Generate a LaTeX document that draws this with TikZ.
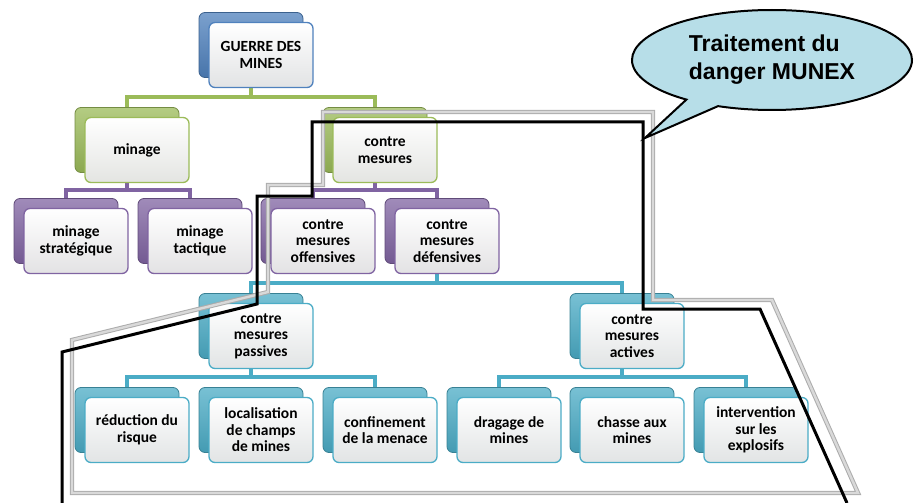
\documentclass[tikz,border=0pt]{standalone}
\usepackage{fontspec}
\setmainfont{Carlito}
\newfontfamily\bullefont{Liberation Sans}
\usepackage{tikz}
\usetikzlibrary{shapes, shapes.callouts, positioning, backgrounds, calc}
\definecolor{niveaubleu}{RGB}{79,129,189}
\definecolor{niveauvert}{RGB}{155,187,89}
\definecolor{niveauviolet}{RGB}{128,100,162}
\definecolor{niveaucyan}{RGB}{75,172,198}
\definecolor{bullefond}{RGB}{183,222,232}
\tikzset{
  fond/.style={rectangle, rounded corners=6pt, minimum width=104pt, minimum height=65pt, inner sep=0pt,
    draw=#1!75!black, line width=0.8pt, top color=#1!75!white, bottom color=#1!90!black},
  face/.style={rectangle, rounded corners=6pt, minimum width=104pt, minimum height=65pt, inner sep=2pt,
    draw=#1, line width=1.3pt, top color=white, bottom color=#1!12!gray!22, align=center,
    font=\bfseries\fontsize{15.5}{16.5}\selectfont},
  lien/.style={draw=#1, line width=3.5pt}
}
\tikzstyle{bulle} = [ellipse callout, draw=black, line width=2pt, fill=bullefond, minimum width=280pt,
  minimum height=100pt, inner sep=0pt, align=left, font=\bullefont\bfseries\fontsize{23}{28}\selectfont]
\tikzstyle{zone} = [draw=gray!65, double=gray!30, double distance=2.4pt, line width=1pt, line join=miter]
\tikzstyle{contour} = [draw=black, line width=3pt, line join=miter]
% une boite = fond colore decale + face claire
\newcommand{\boite}[5]{%
  \node[fond=#4] (#1F) at (#2-10,#3-10) {};
  \node[face=#4] (#1) at (#2,#3) {#5};}

\begin{document}
\begin{tikzpicture}[x=1pt, y=-1pt]
	\useasboundingbox (0,0) rectangle (914,503);
	% niveau 1 et 2
	\boite{guerre}{261}{55}{niveaubleu}{GUERRE DES\\MINES}
	\boite{minage}{137}{150}{niveauvert}{minage}
	\boite{contre}{385}{150}{niveauvert}{contre\\mesures}
	\boite{strat}{76}{241}{niveauviolet}{minage\\strat\'egique}
	\boite{tact}{200}{241}{niveauviolet}{minage\\tactique}
	\boite{offens}{323}{241}{niveauviolet}{contre\\mesures\\offensives}
	\boite{defens}{447}{241}{niveauviolet}{contre\\mesures\\d\'efensives}
	% niveau 3 et 4
	\boite{passiv}{261}{336}{niveaucyan}{contre\\mesures\\passives}
	\boite{activ}{632}{336}{niveaucyan}{contre\\mesures\\actives}
	\boite{reduc}{137}{430}{niveaucyan}{r\'eduction du\\risque}
	\boite{local}{261}{430}{niveaucyan}{localisation\\de champs\\de mines}
	\boite{confin}{385}{430}{niveaucyan}{confinement\\de la menace}
	\boite{drag}{509}{430}{niveaucyan}{dragage de\\mines}
	\boite{chasse}{632}{430}{niveaucyan}{chasse aux\\mines}
	\boite{interv}{756}{430}{niveaucyan}{intervention\\sur les\\explosifs}

	\coordinate (barre1) at (0,97);
	\coordinate (barre2) at (0,190);
	\coordinate (barre3) at (0,283);
	\coordinate (barre4) at (0,377);
	\begin{scope}[on background layer]
		\draw[lien=niveauvert] (guerreF.center) -- (guerreF.center |- barre1) -| (minageF.center);
		\draw[lien=niveauvert] (guerreF.center |- barre1) -| (contreF.center);
		\draw[lien=niveauviolet] (minageF.center) -- (minageF.center |- barre2) -| (stratF.center);
		\draw[lien=niveauviolet] (minageF.center |- barre2) -| (tactF.center);
		\draw[lien=niveauviolet] (contreF.center) -- (contreF.center |- barre2) -| (offensF.center);
		\draw[lien=niveauviolet] (contreF.center |- barre2) -| (defensF.center);
		\draw[lien=niveaucyan] (defensF.center) -- (defensF.center |- barre3) -| (passivF.center);
		\draw[lien=niveaucyan] (defensF.center |- barre3) -| (activF.center);
		\draw[lien=niveaucyan] (passivF.center) -- (passivF.center |- barre4) -| (reducF.center);
		\draw[lien=niveaucyan] (passivF.center |- barre4) -| (confinF.center);
		\draw[lien=niveaucyan] (activF.center) -- (activF.center |- barre4) -| (dragF.center);
		\draw[lien=niveaucyan] (activF.center |- barre4) -| (intervF.center);
	\end{scope}

	% zone traitee
	\draw[zone] (72,493) -- (858,493) -- (772,300) -- (653,300) -- (653,112) -- (323,112) -- (323,185)
		-- (268,185) -- (268,292) -- (72,340) -- cycle;
	\draw[contour] (62,503) -- (62,352) -- (257,304) -- (257,196) -- (312,196) -- (312,122) -- (643,122)
		-- (643,309) -- (760,309) -- (847,503);

	\coordinate (pointe) at (645,138);
	\node[bulle, callout absolute pointer={(pointe)}] (munex) at (772,60) {Traitement du\\danger MUNEX};
\end{tikzpicture}
\end{document}
